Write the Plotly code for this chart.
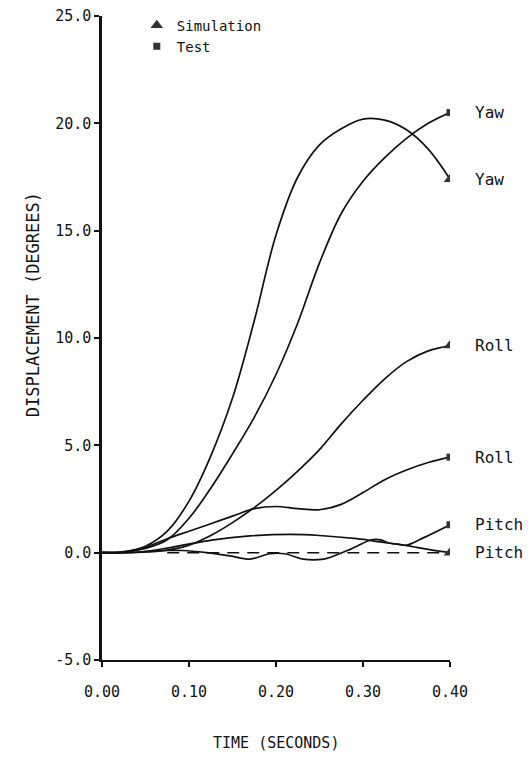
import plotly.graph_objects as go

# ---- data ----
t_grid = [0, 0.025, 0.05, 0.075, 0.10, 0.125, 0.15, 0.175, 0.20, 0.225, 0.25, 0.275, 0.30, 0.325, 0.35, 0.375, 0.40]

sim_yaw_t = t_grid
sim_yaw_y = [0, 0.05, 0.3, 1.0, 2.4, 4.5, 7.2, 10.8, 14.8, 17.5, 19.0, 19.75, 20.2, 20.15, 19.7, 18.8, 17.4]

test_yaw_t = t_grid
test_yaw_y = [0, 0.03, 0.2, 0.6, 1.6, 3.0, 4.6, 6.3, 8.3, 10.7, 13.5, 15.8, 17.3, 18.4, 19.3, 20.0, 20.5]

sim_roll_t = t_grid
sim_roll_y = [0, 0, 0.03, 0.12, 0.35, 0.8, 1.4, 2.1, 2.9, 3.8, 4.8, 6.0, 7.1, 8.1, 8.9, 9.4, 9.65]

test_roll_t = t_grid
test_roll_y = [0, 0.02, 0.25, 0.65, 1.0, 1.35, 1.7, 2.05, 2.15, 2.05, 2.0, 2.25, 2.8, 3.4, 3.85, 4.2, 4.45]

sim_pitch_t = [0, 0.04, 0.08, 0.128, 0.17, 0.216, 0.25, 0.293, 0.32, 0.35, 0.375, 0.40]
sim_pitch_y = [0, 0.02, 0.25, 0.6, 0.78, 0.85, 0.8, 0.65, 0.5, 0.33, 0.15, 0.0]

test_pitch_t = [0, 0.04, 0.07, 0.093, 0.12, 0.147, 0.17, 0.193, 0.21, 0.231, 0.255, 0.27, 0.282, 0.293, 0.31, 0.32, 0.33, 0.34, 0.35, 0.37, 0.40]
test_pitch_y = [0, 0.02, 0.1, 0.1, 0.0, -0.15, -0.3, -0.05, -0.05, -0.3, -0.3, -0.1, 0.1, 0.3, 0.6, 0.6, 0.45, 0.4, 0.35, 0.7, 1.3]

zero_t = [0.075, 0.39]
zero_y = [0, 0]

x_ticks = [0.0, 0.1, 0.2, 0.3, 0.4]
x_tick_labels = ["0.00", "0.10", "0.20", "0.30", "0.40"]
y_ticks = [-5, 0, 5, 10, 15, 20, 25]
y_tick_labels = ["-5.0", "0.0", "5.0", "10.0", "15.0", "20.0", "25.0"]

sim_series = [("Yaw", sim_yaw_t, sim_yaw_y), ("Roll", sim_roll_t, sim_roll_y), ("Pitch", sim_pitch_t, sim_pitch_y)]
test_series = [("Yaw", test_yaw_t, test_yaw_y), ("Roll", test_roll_t, test_roll_y), ("Pitch", test_pitch_t, test_pitch_y)]

FONT = "DejaVu Sans Mono"
INK = "#111111"
MARK = "#333333"

fig = go.Figure()

for name, t, y in sim_series + test_series:
    fig.add_trace(go.Scatter(x=t, y=y, mode="lines", line=dict(color=INK, width=1.7, shape="spline", smoothing=1.0),
                             showlegend=False, hoverinfo="skip"))

fig.add_trace(go.Scatter(x=zero_t, y=zero_y, mode="lines", line=dict(color=INK, width=1.5, dash="12px,8px"),
                         showlegend=False, hoverinfo="skip"))

# end markers
fig.add_trace(go.Scatter(x=[s[1][-1] for s in sim_series], y=[s[2][-1] for s in sim_series], mode="markers",
                         marker=dict(symbol="triangle-up", size=11, color=MARK), name="Simulation", showlegend=True))
fig.add_trace(go.Scatter(x=[s[1][-1] for s in test_series], y=[s[2][-1] for s in test_series], mode="markers",
                         marker=dict(symbol="square", size=7, color=MARK), name="Test", showlegend=True))

for name, t, y in sim_series + test_series:
    fig.add_annotation(x=t[-1], y=y[-1], text=name, showarrow=False, xanchor="left", xshift=23,
                       font=dict(family=FONT, size=16, color=INK))

fig.add_annotation(xref="paper", yref="paper", x=0, y=0.551, xshift=-81, text="DISPLACEMENT (DEGREES)",
                   textangle=-90, showarrow=False, font=dict(family=FONT, size=17, color=INK))
fig.add_annotation(xref="paper", yref="paper", x=0.5, y=0, yshift=-83, yanchor="middle", text="TIME (SECONDS)",
                   showarrow=False, font=dict(family=FONT, size=15, color=INK))

fig.update_layout(
    width=528, height=757,
    margin=dict(l=102, r=78, t=16, b=97, autoexpand=False),
    paper_bgcolor="white", plot_bgcolor="white",
    font=dict(family=FONT, size=15, color=INK),
    legend=dict(x=0.1, y=1.01, xanchor="left", yanchor="top", font=dict(family=FONT, size=14, color=INK),
                bgcolor="rgba(0,0,0,0)", borderwidth=0, itemwidth=30, tracegroupgap=0),
    xaxis=dict(range=[0, 0.40], tickvals=x_ticks, ticktext=x_tick_labels, showgrid=False, zeroline=False,
               showline=True, linecolor=INK, linewidth=2, ticks="outside", ticklen=5, tickwidth=2, tickcolor=INK,
               ticklabelstandoff=12, automargin=False),
    yaxis=dict(range=[-5, 25], tickvals=y_ticks, ticktext=y_tick_labels, showgrid=False, zeroline=False,
               showline=True, linecolor=INK, linewidth=2.5, ticks="outside", ticklen=5, tickwidth=2, tickcolor=INK,
               automargin=False),
)

fig.write_html("out.html")
